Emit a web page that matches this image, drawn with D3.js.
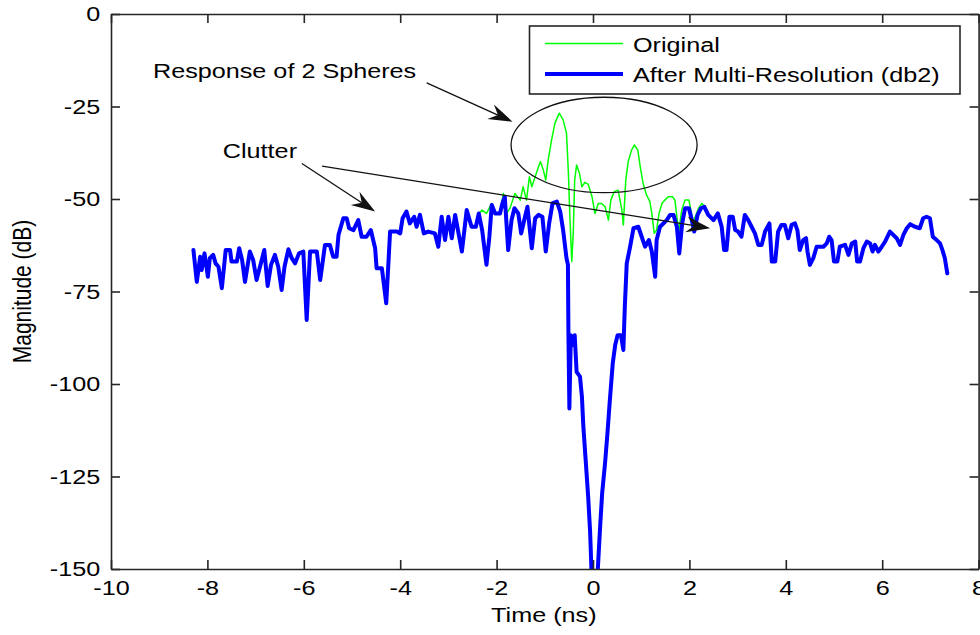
<!DOCTYPE html>
<html>
<head>
<meta charset="utf-8">
<script src="https://cdn.jsdelivr.net/npm/d3@7"></script>
<style>
  body { margin: 0; background: #fff; }
  svg { display: block; }
</style>
</head>
<body>
<svg id="chart" width="980" height="635"></svg>
<script>
// ---- data -------------------------------------------------------------
const xTicks = [-10, -8, -6, -4, -2, 0, 2, 4, 6, 8];
const yTicks = [0, -25, -50, -75, -100, -125, -150];
const seriesNames = ["Original", "After Multi-Resolution (db2)"];

// [time (ns), magnitude (dB)] — original response around the two spheres
const originalSeries = [
  [-2.37,-53.9],[-2.30,-53.0],[-2.21,-53.9],[-2.10,-51.2],[-2.03,-53.9],[-1.93,-53.9],
  [-1.86,-48.5],[-1.79,-53.9],[-1.72,-52.4],[-1.62,-48.5],[-1.51,-50.3],[-1.45,-46.7],
  [-1.38,-50.3],[-1.32,-44.0],[-1.27,-46.7],[-1.20,-44.0],[-1.13,-41.3],[-1.09,-39.9],
  [-1.03,-42.2],[-0.98,-44.9],[-0.93,-39.5],[-0.86,-34.1],[-0.79,-29.5],[-0.70,-26.8],
  [-0.62,-28.6],[-0.55,-32.2],[-0.51,-43.1],[-0.48,-54.8],[-0.44,-66.9],[-0.41,-59.3],
  [-0.38,-44.9],[-0.34,-40.8],[-0.28,-43.1],[-0.23,-46.7],[-0.17,-45.5],[-0.10,-46.0],
  [-0.02,-49.4],[0.04,-53.9],[0.11,-51.2],[0.18,-51.2],[0.25,-52.1],[0.32,-55.7],
  [0.37,-50.3],[0.44,-48.0],[0.52,-47.6],[0.60,-53.0],[0.63,-57.0],[0.68,-44.9],
  [0.73,-39.9],[0.80,-36.8],[0.86,-35.4],[0.93,-36.8],[0.98,-41.3],[1.04,-45.8],
  [1.11,-48.9],[1.18,-50.7],[1.22,-53.9],[1.27,-59.3],[1.32,-58.4],[1.37,-53.9],
  [1.43,-51.2],[1.49,-50.3],[1.56,-49.4],[1.65,-49.4],[1.70,-50.3],[1.74,-54.8],
  [1.78,-58.8],[1.84,-53.0],[1.91,-50.3],[1.99,-50.3],[2.03,-53.0],[2.08,-56.2],
  [2.19,-52.5],[2.26,-51.2],[2.31,-52.1]
];

// [time (ns), magnitude (dB)] — after multi-resolution (db2) processing
const filteredSeries = [
  [-8.29,-63.8],[-8.22,-72.4],[-8.15,-65.6],[-8.12,-69.2],[-8.06,-64.7],[-7.99,-71.0],
  [-7.95,-66.0],[-7.88,-65.1],[-7.83,-67.4],[-7.77,-68.3],[-7.70,-74.1],[-7.62,-63.8],
  [-7.53,-63.8],[-7.50,-66.9],[-7.39,-66.9],[-7.34,-63.3],[-7.28,-66.5],[-7.22,-72.4],
  [-7.12,-64.2],[-7.05,-66.5],[-6.98,-71.9],[-6.82,-63.8],[-6.75,-73.5],[-6.68,-67.8],
  [-6.60,-65.1],[-6.53,-68.3],[-6.46,-74.6],[-6.40,-68.3],[-6.32,-63.6],[-6.25,-66.0],
  [-6.18,-67.4],[-6.10,-64.7],[-6.01,-64.2],[-5.94,-82.7],[-5.87,-64.2],[-5.73,-64.2],
  [-5.66,-71.9],[-5.56,-62.4],[-5.46,-62.4],[-5.39,-65.6],[-5.32,-65.6],[-5.28,-59.7],
  [-5.18,-55.2],[-5.11,-55.2],[-5.06,-57.9],[-4.97,-58.4],[-4.87,-55.7],[-4.80,-60.2],
  [-4.70,-60.2],[-4.61,-58.4],[-4.52,-63.3],[-4.49,-68.7],[-4.38,-68.7],[-4.29,-78.2],
  [-4.25,-68.7],[-4.21,-58.8],[-4.07,-58.8],[-4.00,-59.3],[-3.95,-55.2],[-3.87,-53.4],
  [-3.80,-56.6],[-3.71,-54.8],[-3.66,-57.5],[-3.59,-54.3],[-3.51,-59.3],[-3.42,-58.8],
  [-3.28,-59.3],[-3.21,-62.9],[-3.14,-54.8],[-3.07,-61.1],[-3.00,-54.8],[-2.93,-60.6],
  [-2.86,-54.3],[-2.72,-64.2],[-2.62,-53.0],[-2.52,-57.5],[-2.43,-57.5],[-2.37,-53.9],
  [-2.30,-58.4],[-2.21,-67.8],[-2.15,-60.2],[-2.10,-51.6],[-2.03,-53.9],[-1.93,-53.9],
  [-1.88,-51.2],[-1.83,-49.4],[-1.76,-63.8],[-1.69,-55.7],[-1.63,-52.5],[-1.55,-53.9],
  [-1.49,-59.3],[-1.41,-54.8],[-1.36,-52.1],[-1.27,-63.3],[-1.20,-55.2],[-1.13,-54.3],
  [-1.05,-54.8],[-0.98,-64.2],[-0.91,-56.6],[-0.84,-51.2],[-0.75,-50.7],[-0.68,-53.4],
  [-0.62,-58.4],[-0.55,-66.0],[-0.52,-67.8],[-0.51,-86.3],[-0.49,-106.6],[-0.46,-86.8],
  [-0.42,-89.5],[-0.38,-86.8],[-0.34,-96.7],[-0.27,-98.0],[-0.23,-103.4],[-0.20,-111.5],
  [-0.15,-121.0],[-0.10,-130.5],[-0.06,-139.9],[-0.03,-151],[0.08,-151],[0.10,-150],
  [0.15,-138.1],[0.19,-129.5],[0.25,-121.4],[0.30,-113.3],[0.35,-104.3],[0.41,-94.4],
  [0.46,-89.5],[0.51,-86.8],[0.58,-86.8],[0.63,-90.8],[0.66,-79.1],[0.70,-67.4],
  [0.77,-62.9],[0.84,-57.9],[0.94,-57.5],[1.01,-60.2],[1.08,-62.9],[1.16,-61.1],
  [1.22,-64.2],[1.29,-71.0],[1.32,-61.1],[1.39,-57.5],[1.53,-55.7],[1.60,-54.3],
  [1.67,-54.3],[1.74,-57.5],[1.79,-64.7],[1.85,-56.6],[1.91,-52.5],[1.99,-52.5],
  [2.05,-55.7],[2.10,-58.8],[2.17,-54.3],[2.24,-52.5],[2.31,-52.1],[2.39,-54.3],
  [2.50,-55.7],[2.59,-53.9],[2.67,-57.5],[2.72,-63.8],[2.77,-63.8],[2.83,-54.8],
  [2.90,-54.8],[2.95,-58.4],[3.01,-58.8],[3.08,-60.2],[3.15,-54.3],[3.22,-55.7],
  [3.29,-57.5],[3.36,-59.3],[3.43,-62.4],[3.50,-62.4],[3.57,-58.8],[3.66,-56.6],
  [3.71,-66.9],[3.78,-66.9],[3.84,-58.8],[3.91,-57.0],[3.98,-57.0],[4.05,-60.6],
  [4.12,-57.0],[4.19,-56.6],[4.24,-58.4],[4.29,-63.8],[4.36,-61.1],[4.42,-60.6],
  [4.45,-64.2],[4.50,-67.8],[4.57,-66.0],[4.64,-62.9],[4.78,-62.9],[4.85,-62.0],
  [4.90,-60.2],[4.95,-61.1],[5.00,-66.9],[5.07,-66.9],[5.12,-62.9],[5.23,-62.4],
  [5.30,-65.1],[5.37,-62.0],[5.44,-61.5],[5.48,-66.9],[5.54,-66.9],[5.61,-63.3],
  [5.68,-61.5],[5.75,-62.0],[5.80,-64.2],[5.85,-62.4],[5.92,-64.2],[5.99,-62.9],
  [6.06,-61.5],[6.16,-58.8],[6.23,-59.7],[6.30,-60.6],[6.37,-62.4],[6.44,-59.7],
  [6.51,-57.9],[6.58,-56.8],[6.68,-57.5],[6.78,-57.9],[6.85,-55.2],[6.92,-54.8],
  [6.99,-55.2],[7.05,-60.2],[7.13,-61.1],[7.20,-62.0],[7.25,-63.8],[7.30,-66.0],
  [7.35,-70.1]
];

// annotations, in data units (time ns, dB)
const noteLabels = ["Response of 2 Spheres", "Clutter"];
const noteAnchors = [[-9.13, -17.3], [-7.68, -38.9]];
const arrowFrom = [[-3.45, -18.6], [-6.04, -40.4], [-5.62, -41.1]];
const arrowTo   = [[-1.67, -29.1], [-4.52, -53.4], [2.43, -57.9]];
const ellipseCenter = [0.23, -35.4];
const ellipseRadii = [1.93, 12.9];

// ---- layout -------------------------------------------------------------
const W = 980, H = 635;
const FONT = '"Liberation Sans", Arial, Helvetica, sans-serif';
const FONT_SIZE = 21;
const SX = 1.2;               // horizontal glyph stretch of all labels
const AXIS_COLOR = "#262626";
const GREEN = "#00ff00", BLUE = "#0000ff";

const svg = d3.select("#chart");
svg.append("rect").attr("width", W).attr("height", H).attr("fill", "#fff");

const x = d3.scaleLinear().domain([-10, 8]).range([111, 978.6]);
const y = d3.scaleLinear().domain([0, -150]).range([14, 569]);

svg.append("defs").append("clipPath").attr("id", "plot-clip")
  .append("rect")
  .attr("x", x(-10)).attr("y", y(0))
  .attr("width", x(8) - x(-10)).attr("height", y(-150) - y(0));

// ---- series -------------------------------------------------------------
const line = d3.line().x(d => x(d[0])).y(d => y(d[1]));
const plot = svg.append("g").attr("clip-path", "url(#plot-clip)");

plot.append("path").datum(originalSeries)
  .attr("d", line).attr("fill", "none")
  .attr("stroke", GREEN).attr("stroke-width", 1.5)
  .attr("stroke-linejoin", "round");

plot.append("path").datum(filteredSeries)
  .attr("d", line).attr("fill", "none")
  .attr("stroke", BLUE).attr("stroke-width", 4)
  .attr("stroke-linejoin", "round").attr("stroke-linecap", "round");

// ---- axes (box with inward ticks) -------------------------------------
function styleAxis(g) {
  g.select(".domain").attr("stroke", AXIS_COLOR).attr("stroke-width", 1.6);
  g.selectAll(".tick line").attr("stroke", AXIS_COLOR).attr("stroke-width", 1.6);
  g.selectAll(".tick text")
    .attr("fill", "#000")
    .style("font-family", FONT)
    .style("font-size", FONT_SIZE + "px")
    .attr("transform", `scale(${SX},1)`);
}
const fmt = d => String(d);

svg.append("g")
  .attr("transform", `translate(0,${y(-150)})`)
  .call(d3.axisBottom(x).tickValues(xTicks).tickFormat(fmt)
    .tickSizeInner(-9).tickSizeOuter(0).tickPadding(11))
  .call(styleAxis);

svg.append("g")
  .attr("transform", `translate(0,${y(0)})`)
  .call(d3.axisTop(x).tickValues(xTicks).tickFormat("")
    .tickSizeInner(-9).tickSizeOuter(0))
  .call(styleAxis);

svg.append("g")
  .attr("transform", `translate(${x(-10)},0)`)
  .call(d3.axisLeft(y).tickValues(yTicks).tickFormat(fmt)
    .tickSizeInner(-9).tickSizeOuter(0).tickPadding(9))
  .call(styleAxis);

svg.append("g")
  .attr("transform", `translate(${x(8)},0)`)
  .call(d3.axisRight(y).tickValues(yTicks).tickFormat("")
    .tickSizeInner(-9).tickSizeOuter(0))
  .call(styleAxis);

svg.selectAll(".domain").attr("fill", "none");

// ---- axis titles --------------------------------------------------------
function label(tx, ty, str, anchor, extra) {
  return svg.append("text")
    .attr("transform", `translate(${tx},${ty}) scale(${SX},1)` + (extra || ""))
    .attr("text-anchor", anchor)
    .style("font-family", FONT)
    .style("font-size", FONT_SIZE + "px")
    .attr("fill", "#000")
    .text(str);
}
label((x(-10) + x(8)) / 2 - 1, 622, "Time (ns)", "middle");
label(31, (y(0) + y(-150)) / 2, "Magnitude (dB)", "middle", " rotate(-90)");

// ---- annotations ---------------------------------------------------------
noteLabels.forEach((s, i) => label(x(noteAnchors[i][0]), y(noteAnchors[i][1]), s, "start"));

svg.append("ellipse")
  .attr("cx", x(ellipseCenter[0])).attr("cy", y(ellipseCenter[1]))
  .attr("rx", x(ellipseCenter[0] + ellipseRadii[0]) - x(ellipseCenter[0]))
  .attr("ry", y(ellipseCenter[1] - ellipseRadii[1]) - y(ellipseCenter[1]))
  .attr("fill", "none").attr("stroke", "#111").attr("stroke-width", 1.3);

const arrowG = svg.append("g");
arrowFrom.forEach((a, i) => {
  const b = arrowTo[i];
  const x0 = x(a[0]), y0 = y(a[1]), x1 = x(b[0]), y1 = y(b[1]);
  const len = Math.hypot(x1 - x0, y1 - y0);
  const ux = (x1 - x0) / len, uy = (y1 - y0) / len, px = -uy, py = ux;
  const L = 24, HW = 8, N = 16;
  arrowG.append("line")
    .attr("x1", x0).attr("y1", y0)
    .attr("x2", x1 - ux * N).attr("y2", y1 - uy * N)
    .attr("stroke", "#111").attr("stroke-width", 1.3);
  arrowG.append("path")
    .attr("d", `M${x1},${y1}` +
      `L${x1 - ux * L + px * HW},${y1 - uy * L + py * HW}` +
      `L${x1 - ux * N},${y1 - uy * N}` +
      `L${x1 - ux * L - px * HW},${y1 - uy * L - py * HW}Z`)
    .attr("fill", "#111");
});

// ---- legend ----------------------------------------------------------------
const legend = svg.append("g");
legend.append("rect")
  .attr("x", 529.5).attr("y", 26).attr("width", 430.5).attr("height", 68)
  .attr("fill", "#fff").attr("stroke", AXIS_COLOR).attr("stroke-width", 1.6);
const legendRows = [
  { name: seriesNames[0], color: GREEN, width: 1.5, ly: 43.5, ty: 52 },
  { name: seriesNames[1], color: BLUE, width: 4, ly: 74, ty: 82 }
];
legendRows.forEach(r => {
  legend.append("line")
    .attr("x1", 545).attr("x2", 623).attr("y1", r.ly).attr("y2", r.ly)
    .attr("stroke", r.color).attr("stroke-width", r.width);
  label(633, r.ty, r.name, "start");
});
</script>
</body>
</html>
